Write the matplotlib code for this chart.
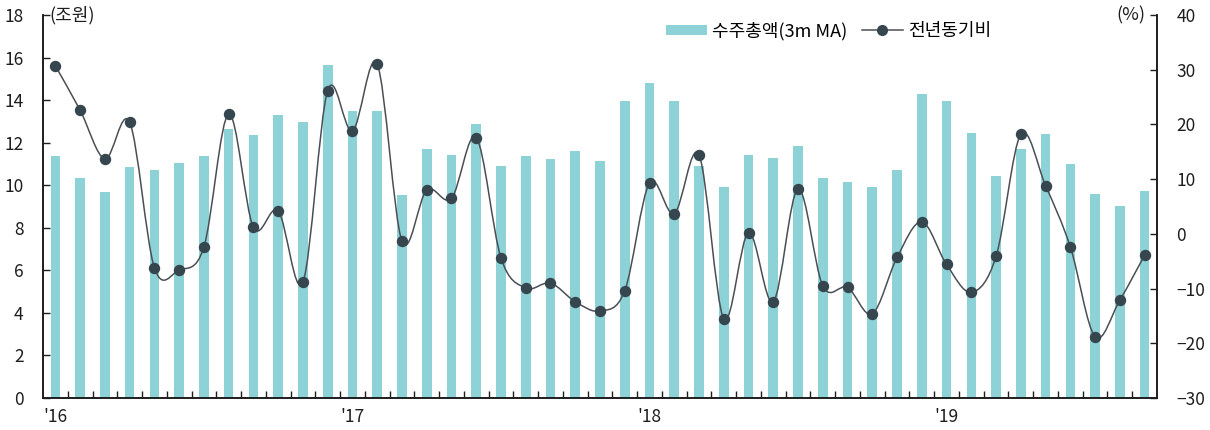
import matplotlib
matplotlib.use("Agg")
import matplotlib.pyplot as plt
from matplotlib.path import Path
from matplotlib.patches import PathPatch, Patch
from matplotlib.lines import Line2D
import numpy as np

plt.rcParams['font.family'] = ['Noto Sans CJK KR', 'DejaVu Sans']

# Monthly data, Jan 2016 - Sep 2019
orders_3m_ma = [
    11.37, 10.32, 9.68, 10.84, 10.71, 11.03, 11.37, 12.66, 12.34, 13.31, 12.99, 15.63,
    13.50, 13.50, 9.54, 11.68, 11.41, 12.90, 10.90, 11.35, 11.23, 11.60, 11.15, 13.95,
    14.79, 13.95, 10.90, 9.92, 11.41, 11.29, 11.82, 10.32, 10.13, 9.92, 10.71, 14.27,
    13.95, 12.46, 10.44, 11.68, 12.39, 11.02, 9.61, 9.02, 9.74,
]
yoy_pct = [
    30.7, 22.6, 13.7, 20.4, -6.2, -6.6, -2.4, 21.9, 1.2, 4.2, -8.8, 26.2,
    18.8, 31.0, -1.3, 8.0, 6.5, 17.6, -4.4, -9.9, -9.0, -12.4, -14.1, -10.4,
    9.3, 3.7, 14.4, -15.5, 0.2, -12.4, 8.2, -9.5, -9.8, -14.6, -4.3, 2.2,
    -5.6, -10.7, -4.1, 18.2, 8.8, -2.4, -18.8, -12.1, -3.9,
]
year_labels = ["'16", "'17", "'18", "'19"]
year_positions = [0, 12, 24, 36]

bar_label = '수주총액(3m MA)'
line_label = '전년동기비'
left_unit = '(조원)'
right_unit = '(%)'

bar_color = '#8DD2D7'
line_color = '#4A4F55'
marker_color = '#36464F'
text_color = '#1E1E1E'
tick_fs = 12.5

fig = plt.figure(figsize=(12.1, 4.3), dpi=100)
ax = fig.add_axes([43 / 1210, 32 / 430, (1157 - 43) / 1210, (398 - 15) / 430])
ax2 = ax.twinx()

x = np.arange(len(orders_3m_ma))
ax.bar(x, orders_3m_ma, width=0.39, color=bar_color, zorder=2)

ax.set_xlim(-0.5, len(x) - 0.5)
ax.set_ylim(0, 18)
ax.set_yticks(np.arange(0, 19, 2))
ax2.set_ylim(-30, 40)
ax2.set_yticks(np.arange(-30, 41, 10))

# x axis: year labels under January bars, small ticks between months
ax.set_xticks(year_positions)
ax.set_xticklabels(year_labels)
ax.set_xticks(np.arange(0.5, len(x) - 0.5, 1), minor=True)
ax.tick_params(axis='x', which='major', length=0, pad=7, labelsize=tick_fs, colors=text_color)
ax.tick_params(axis='x', which='minor', direction='in', length=5, width=1, color=text_color)
ax.tick_params(axis='y', direction='in', length=5, width=1, labelsize=tick_fs, pad=14, colors=text_color)
ax2.tick_params(axis='y', direction='in', length=5, width=1, labelsize=tick_fs, pad=14, colors=text_color)

for a in (ax, ax2):
    a.spines['top'].set_visible(False)
    for s in ('left', 'right', 'bottom'):
        a.spines[s].set_color(text_color)
        a.spines[s].set_linewidth(1.2)

# smoothed line through the YoY points (Catmull-Rom as cubic Bezier)
pts = np.column_stack([x, yoy_pct]).astype(float)
ext = np.vstack([pts[0], pts, pts[-1]])
verts = [tuple(pts[0])]
codes = [Path.MOVETO]
for i in range(len(pts) - 1):
    p0, p1, p2, p3 = ext[i], ext[i + 1], ext[i + 2], ext[i + 3]
    c1 = p1 + (p2 - p0) / 6.0
    c2 = p2 - (p3 - p1) / 6.0
    verts += [tuple(c1), tuple(c2), tuple(p2)]
    codes += [Path.CURVE4, Path.CURVE4, Path.CURVE4]
curve = PathPatch(Path(verts, codes), facecolor='none', edgecolor=line_color, lw=1.1, zorder=3)
ax2.add_patch(curve)
ax2.plot(x, yoy_pct, linestyle='none', marker='o', markersize=7.2,
         color=marker_color, zorder=4)

ax.text(0.006, 1.0, left_unit, transform=ax.transAxes, ha='left', va='center',
        fontsize=13, color=text_color)
ax2.text(0.99, 1.0, right_unit, transform=ax2.transAxes, ha='right', va='center',
         fontsize=13, color=text_color)

handles = [
    Patch(facecolor=bar_color, edgecolor='none'),
    Line2D([0], [0], color=line_color, lw=1.1, marker='o', markersize=7,
           markerfacecolor=marker_color, markeredgecolor=marker_color),
]
ax2.legend(handles, [bar_label, line_label], loc='upper center',
           bbox_to_anchor=(0.705, 1.025), ncol=2, frameon=False, fontsize=13,
           handlelength=2.3, handleheight=0.5, columnspacing=0.8, handletextpad=0.25)

fig.savefig('out.png', dpi=100)
